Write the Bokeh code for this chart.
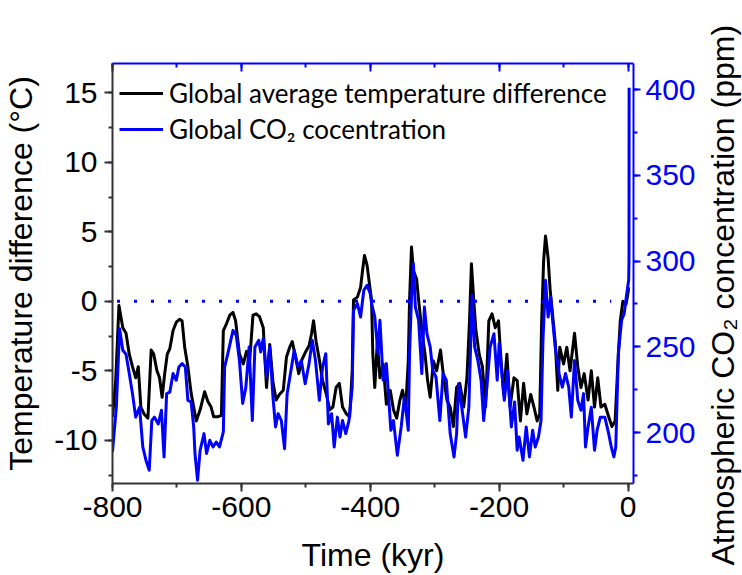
from bokeh.plotting import figure
from bokeh.layouts import row
from bokeh.models import Range1d, LinearAxis, Legend, LegendItem, Title, FixedTicker
from bokeh.embed import file_html
from bokeh.resources import INLINE

# ---- data ----
time_temp = [-800, -795, -790, -784, -779, -774, -769, -764, -760, -756, -751, -745,
             -740, -736, -731, -727, -723, -719, -715, -711, -706, -701, -696, -692,
             -688, -683, -678, -674, -670, -664, -657, -652, -647, -643, -636, -631,
             -628, -623, -618, -613, -609, -603, -597, -592, -587, -582, -577, -572,
             -566, -561, -556, -551, -546, -541, -535, -530, -525, -521, -516, -511,
             -506, -500, -495, -491, -488, -484, -479, -474, -468, -463, -458, -453,
             -448, -443, -437, -432, -428, -426, -420, -415, -412, -409, -405, -400,
             -398, -396, -393, -389, -385, -380, -375, -369, -364, -359, -354, -350,
             -345, -341, -339, -336, -333, -328, -325, -320, -315, -311, -307, -302,
             -297, -291, -286, -281, -276, -271, -266, -261, -255, -250, -246, -243,
             -239, -236, -231, -226, -221, -216, -211, -206, -201, -197, -193, -188,
             -183, -177, -172, -167, -162, -157, -151, -146, -141, -137, -134, -131,
             -128, -124, -121, -117, -113, -109, -106, -100, -95, -90, -83, -78,
             -73, -68, -62, -57, -52, -47, -42, -36, -30, -25, -20, -15,
             -12, -8, -3, 0, 1]
temp = [-8.3, -5.7, -0.3, -1.9, -2.3, -3.8, -4.7, -5.5, -4.7, -7.6, -8.1, -8.4,
        -3.5, -3.8, -5.0, -5.5, -6.9, -5.2, -3.8, -3.4, -2.1, -1.5, -1.3, -1.4,
        -3.3, -4.7, -6.6, -7.6, -8.6, -7.8, -6.5, -7.2, -7.6, -8.3, -8.3, -8.2,
        -2.1, -1.6, -1.0, -0.8, -1.4, -3.8, -4.5, -3.6, -4.2, -1.0, -0.9, -1.1,
        -1.9, -6.2, -3.1, -5.8, -7.1, -6.7, -6.4, -4.0, -3.3, -2.9, -4.0, -5.2,
        -4.2, -3.6, -3.2, -2.3, -1.4, -2.9, -4.2, -5.7, -6.7, -7.8, -7.6, -6.2,
        -5.9, -7.6, -8.1, -8.3, -5.0, 0.1, 0.3, 1.0, 2.2, 3.3, 2.6, 0.8,
        0.1, -3.8, -6.2, -2.9, -5.5, -4.5, -7.4, -6.4, -7.8, -8.4, -7.1, -6.4,
        -7.6, -4.3, 0.1, 3.9, 2.2, 1.6, 0.1, -2.1, -3.8, -5.7, -6.9, -4.3,
        -5.0, -3.5, -5.5, -7.1, -7.6, -9.0, -6.2, -5.9, -7.6, -5.5, -1.4, 2.7,
        -0.2, -2.1, -3.8, -4.7, -7.6, -1.4, -0.9, -1.9, -1.4, -4.3, -6.7, -3.8,
        -7.6, -5.5, -5.7, -8.6, -5.9, -8.1, -6.7, -7.6, -8.6, -8.1, -1.4, 2.9,
        4.7, 3.1, 0.9, -1.0, -2.9, -6.4, -3.3, -4.5, -3.3, -5.0, -2.3, -4.7,
        -6.2, -5.2, -7.1, -5.0, -7.6, -5.5, -7.6, -7.4, -8.3, -9.0, -8.6, -3.8,
        -1.4, 0.0, -0.2, 0.6, 1.0]

time_co2 = [-800, -794, -789, -784, -779, -774, -769, -764, -758, -753, -748, -743,
            -739, -735, -729, -724, -720, -716, -711, -706, -701, -697, -692, -687,
            -683, -678, -674, -672, -668, -664, -658, -654, -649, -644, -639, -634,
            -628, -626, -621, -613, -608, -603, -598, -593, -588, -583, -579, -573,
            -570, -566, -561, -556, -551, -547, -543, -538, -533, -529, -523, -518,
            -512, -507, -501, -495, -490, -485, -479, -474, -469, -465, -460, -456,
            -451, -447, -443, -438, -433, -428, -426, -420, -415, -410, -405, -400,
            -398, -393, -388, -385, -380, -375, -368, -364, -358, -352, -347, -341,
            -339, -336, -333, -330, -325, -320, -316, -312, -307, -303, -298, -292,
            -287, -282, -276, -270, -266, -263, -258, -252, -247, -242, -238, -233,
            -228, -224, -219, -214, -208, -203, -200, -196, -192, -187, -181, -176,
            -172, -169, -163, -158, -153, -148, -144, -139, -135, -132, -128, -124,
            -120, -117, -113, -107, -102, -97, -92, -88, -83, -78, -73, -69,
            -66, -62, -57, -52, -48, -43, -36, -30, -26, -22, -19, -15,
            -10, -6, -2, 1, 1.5, 1.7]
co2 = [188.7, 215.0, 260.6, 248.0, 245.7, 234.4, 222.7, 209.0, 214.8, 191.6, 183.8, 178.0,
       207.0, 209.0, 205.0, 213.0, 185.8, 222.7, 223.6, 234.4, 230.5, 238.2, 240.2, 238.2,
       218.8, 217.8, 203.3, 187.8, 172.2, 189.7, 199.4, 187.8, 195.5, 191.6, 194.5, 191.6,
       200.4, 238.2, 246.0, 259.6, 256.7, 242.0, 217.0, 226.5, 249.9, 207.0, 249.9, 253.8,
       247.0, 254.8, 232.4, 249.9, 220.8, 203.3, 211.0, 207.0, 190.6, 222.7, 236.3, 248.0,
       238.2, 242.0, 228.5, 240.2, 253.8, 242.0, 218.8, 238.2, 246.0, 205.0, 211.0, 191.6,
       209.0, 197.4, 207.0, 199.4, 207.0, 226.6, 271.3, 275.2, 267.4, 283.0, 285.9, 281.0,
       275.2, 267.4, 246.0, 265.5, 230.5, 240.2, 201.3, 207.0, 186.8, 203.3, 220.8, 201.3,
       246.0, 279.0, 298.5, 273.2, 265.5, 234.4, 273.2, 257.6, 249.9, 236.3, 232.4, 207.0,
       234.4, 230.5, 199.4, 185.8, 199.4, 228.5, 214.8, 197.4, 214.8, 280.0, 249.9, 242.0,
       230.5, 207.0, 226.5, 249.9, 257.6, 230.5, 252.0, 236.0, 218.8, 236.0, 203.3, 217.8,
       189.7, 197.4, 183.8, 203.3, 185.8, 201.3, 191.6, 197.4, 207.0, 253.8, 288.8, 267.4,
       279.0, 265.5, 249.9, 234.4, 226.5, 234.4, 226.5, 209.0, 242.0, 218.8, 213.0, 222.7,
       191.6, 203.3, 214.8, 189.7, 201.3, 209.0, 209.0, 199.4, 191.6, 185.8, 191.6, 246.0,
       265.5, 269.3, 281.0, 288.8, 300.0, 401.0]

ref_time = [-793, -26]
ref_temp = [0.0, 0.0]

x_ticks = [-800, -600, -400, -200, 0]
x_labels = ["-800", "-600", "-400", "-200", "0"]
x_minor = [-800, -700, -600, -500, -400, -300, -200, -100, 0]
temp_ticks = [-10, -5, 0, 5, 10, 15]
temp_labels = ["-10", "-5", "0", "5", "10", "15"]
temp_minor = [-12.5, -10, -7.5, -5, -2.5, 0, 2.5, 5, 7.5, 10, 12.5, 15]
co2_ticks = [200, 250, 300, 350, 400]
co2_minor = [175, 200, 225, 250, 275, 300, 325, 350, 375, 400]

BLUE = "#0000FF"
AXIS_GREY = "#333333"
FONT = "Liberation Sans"

p = figure(width=700, height=575, output_backend="svg", toolbar_location=None,
           x_range=Range1d(-800, 8.5), y_range=Range1d(-13.1, 17.1),
           min_border_left=112, min_border_right=67, min_border_top=63,
           min_border_bottom=92)
p.extra_y_ranges = {"co2": Range1d(170.3, 415.2)}
p.grid.visible = False
p.outline_line_color = None
p.background_fill_color = "white"
p.border_fill_color = "white"

# bottom axis
xa = p.xaxis[0]
xa.ticker = FixedTicker(ticks=x_ticks, minor_ticks=x_minor)
xa.major_label_overrides = dict(zip(x_ticks, x_labels))
xa.axis_label = "Time (kyr)"
# left axis
ya = p.yaxis[0]
ya.ticker = FixedTicker(ticks=temp_ticks, minor_ticks=temp_minor)
ya.major_label_overrides = dict(zip(temp_ticks, temp_labels))
ya.axis_label = "Temperature difference (°C)"

for ax in (xa, ya):
    ax.axis_line_color = AXIS_GREY
    ax.axis_line_width = 2
    ax.major_tick_line_color = AXIS_GREY
    ax.minor_tick_line_color = AXIS_GREY
    ax.major_tick_line_width = 2
    ax.minor_tick_line_width = 2
    ax.major_tick_in = 0
    ax.major_tick_out = 8
    ax.minor_tick_in = 0
    ax.minor_tick_out = 4
    ax.major_label_text_font = FONT
    ax.major_label_text_font_size = "30px"
    ax.major_label_text_color = "black"
    ax.axis_label_text_font = FONT
    ax.axis_label_text_font_size = "32px"
    ax.axis_label_text_font_style = "normal"
    ax.axis_label_text_color = "black"

xa.major_label_standoff = 5
xa.axis_label_standoff = 17
ya.major_label_standoff = 7
ya.axis_label_standoff = 12

# top axis (blue, no labels)
top = LinearAxis(ticker=FixedTicker(ticks=x_ticks, minor_ticks=x_minor))
top.major_label_overrides = {t: "" for t in x_ticks}
top.axis_line_color = BLUE
top.axis_line_width = 2
top.major_tick_line_color = BLUE
top.minor_tick_line_color = BLUE
top.major_tick_line_width = 2
top.minor_tick_line_width = 2
top.major_tick_in = 8
top.major_tick_out = 0
top.minor_tick_in = 4
top.minor_tick_out = 0
top.major_label_standoff = 0
p.add_layout(top, "above")

# right axis (CO2)
ra = LinearAxis(y_range_name="co2", ticker=FixedTicker(ticks=co2_ticks, minor_ticks=co2_minor))
ra.axis_line_color = BLUE
ra.axis_line_width = 2
ra.major_tick_line_color = BLUE
ra.minor_tick_line_color = BLUE
ra.major_tick_line_width = 2
ra.minor_tick_line_width = 2
ra.major_tick_in = 0
ra.major_tick_out = 7
ra.minor_tick_in = 0
ra.minor_tick_out = 4
ra.major_label_text_font = FONT
ra.major_label_text_font_size = "30px"
ra.major_label_text_color = BLUE
ra.major_label_standoff = 5
p.add_layout(ra, "right")

# data lines
r_temp = p.line(time_temp, temp, line_color="black", line_width=3, line_join="round")
r_co2 = p.line(time_co2, co2, y_range_name="co2", line_color=BLUE, line_width=3,
               line_join="round")
p.line(ref_time, ref_temp, line_color=BLUE, line_width=3, line_dash="3 14")

legend = Legend(items=[
    LegendItem(label="Global average temperature difference", renderers=[r_temp]),
    LegendItem(label="Global CO₂ cocentration", renderers=[r_co2]),
], location=(7, 336))
legend.margin = 0
legend.padding = 10
legend.spacing = 0
legend.glyph_width = 44
legend.glyph_height = 36
legend.label_height = 36
legend.label_standoff = 6
legend.label_text_font = "Lato"
legend.label_text_font_size = "26px"
legend.label_text_color = "black"
legend.background_fill_alpha = 0
legend.border_line_color = None
p.add_layout(legend)

# narrow strip holding the right-hand axis title (reads bottom-to-top)
p2 = figure(width=42, height=575, output_backend="svg", toolbar_location=None,
            x_range=Range1d(0, 1), y_range=Range1d(0, 1),
            x_axis_location=None, y_axis_location=None,
            min_border_left=40, min_border_right=0, min_border_top=63,
            min_border_bottom=92)
p2.grid.visible = False
p2.outline_line_color = None
p2.background_fill_color = "white"
p2.border_fill_color = "white"
p2.add_layout(Title(text="Atmospheric CO₂ concentration (ppm)", align="left",
                    offset=-82, standoff=0, vertical_align="bottom",
                    text_font=FONT, text_font_size="32px", text_font_style="normal",
                    text_color="black"), "left")

layout = row(p, p2, spacing=0)
open("out.html", "w").write(file_html(layout, INLINE))
